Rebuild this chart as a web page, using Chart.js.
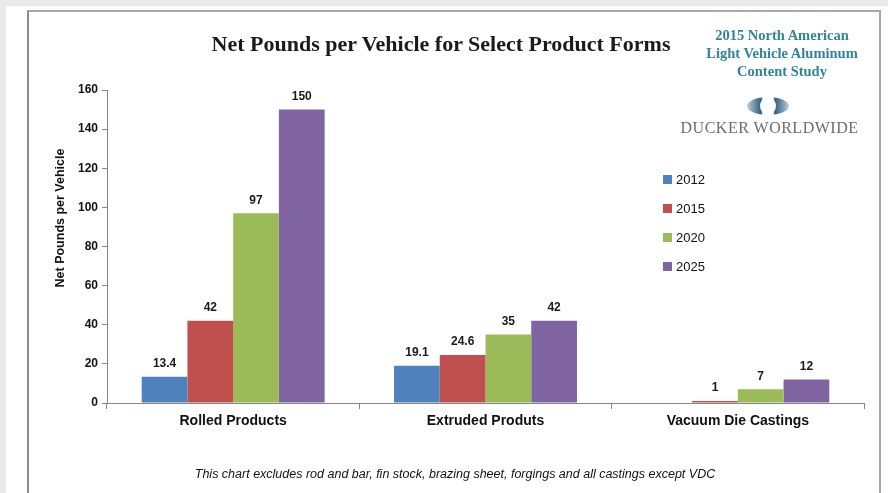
<!DOCTYPE html>
<html>
<head>
    <title>Net Pounds per Vehicle for Select Product Forms</title>
    <script src="https://cdn.jsdelivr.net/npm/chart.js"></script>
    <style>
        body {
            margin: 0;
            width: 888px;
            height: 493px;
            overflow: hidden;
            background: #e9e9e9;
            font-family: "Liberation Sans", Arial, sans-serif;
        }

        .sheet {
            position: absolute;
            left: 6px;
            top: 6px;
            right: 0;
            bottom: 0;
            background: #fff;
        }

        .frame {
            position: absolute;
            left: 27px;
            top: 10px;
            width: 850px;
            height: 520px;
            border-left: 2px solid #8c8c8c;
            border-top: 2px solid #a8a8a8;
            border-right: 2px solid #a8a8a8;
        }

        canvas {
            position: absolute;
            left: 0;
            top: 0;
        }

        .title {
            position: absolute;
            left: 180px;
            width: 522px;
            top: 31px;
            text-align: center;
            font-family: "Liberation Serif", serif;
            font-weight: bold;
            font-size: 22px;
            color: #1a1a1a;
        }

        .study {
            position: absolute;
            left: 692px;
            width: 180px;
            top: 26px;
            text-align: center;
            font-family: "Liberation Serif", serif;
            font-weight: bold;
            font-size: 14.5px;
            line-height: 18px;
            color: #31849b;
        }

        .logo {
            position: absolute;
            left: 747px;
            top: 97px;
            width: 42px;
            height: 18px;
            border-radius: 50%;
            background: linear-gradient(to right, #c3d0d9 0%, #6f91a6 18%, #2f5f7d 34%, #ffffff 38%, #ffffff 62%, #2f5f7d 66%, #6f91a6 82%, #c3d0d9 100%);
        }

        .logo::after {
            content: "";
            position: absolute;
            left: 13px;
            top: 0;
            width: 16px;
            height: 18px;
            border-radius: 50%;
            background: #fff;
        }

        .ducker {
            position: absolute;
            left: 672px;
            width: 195px;
            top: 119px;
            text-align: center;
            font-family: "Liberation Serif", serif;
            font-size: 16px;
            letter-spacing: 0.5px;
            color: #6d6d6d;
        }

        .legend {
            position: absolute;
            left: 663px;
            top: 172px;
        }

        .legend div {
            height: 29px;
            font-size: 13px;
            color: #111;
            line-height: 16px;
        }

        .legend span {
            display: inline-block;
            width: 9px;
            height: 9px;
            margin-right: 4px;
            vertical-align: 0px;
        }

        .y-title {
            position: absolute;
            left: -40px;
            width: 200px;
            top: 210px;
            text-align: center;
            font-weight: bold;
            font-size: 12.5px;
            line-height: 16px;
            color: #111;
            transform: rotate(-90deg);
        }

        .note {
            position: absolute;
            left: 80px;
            width: 750px;
            top: 467px;
            text-align: center;
            font-style: italic;
            font-size: 12.5px;
            color: #111;
        }
    </style>
</head>
<body>
    <div class="sheet"></div>
    <div class="frame"></div>
    <canvas id="pounds-chart" width="888" height="493"></canvas>

    <div class="title">Net Pounds per Vehicle for Select Product Forms</div>
    <div class="study">2015 North American<br>Light Vehicle Aluminum<br>Content Study</div>
    <div class="logo"></div>
    <div class="ducker">DUCKER WORLDWIDE</div>
    <div class="legend" id="legend"></div>
    <div class="y-title">Net Pounds per Vehicle</div>
    <div class="note">This chart excludes rod and bar, fin stock, brazing sheet, forgings and all castings except VDC</div>

    <script>
        const categories = ['Rolled Products', 'Extruded Produts', 'Vacuum Die Castings'];
        const years = ['2012', '2015', '2020', '2025'];
        const lbs2012 = [13.4, 19.1, null];
        const lbs2015 = [42, 24.6, 1];
        const lbs2020 = [97, 35, 7];
        const lbs2025 = [150, 42, 12];
        const yMax = 160;
        const yStep = 20;

        const colors = ['#4f81bd', '#c0504d', '#9bbb59', '#8064a2'];
        const series = [lbs2012, lbs2015, lbs2020, lbs2025];
        const axisColor = '#868686';

        Chart.defaults.font.family = '"Liberation Sans", Arial, sans-serif';

        // legend on the right, built from the series names
        const legend = document.getElementById('legend');
        years.forEach((year, i) => {
            const row = document.createElement('div');
            row.innerHTML = '<span style="background:' + colors[i] + '"></span>' + year;
            legend.appendChild(row);
        });

        // value printed above each bar
        const valueLabels = {
            id: 'valueLabels',
            afterDatasetsDraw(chart) {
                const ctx = chart.ctx;
                ctx.save();
                ctx.font = 'bold 12px "Liberation Sans", Arial, sans-serif';
                ctx.fillStyle = '#1a1a1a';
                ctx.textAlign = 'center';
                ctx.textBaseline = 'bottom';
                chart.data.datasets.forEach((ds, i) => {
                    chart.getDatasetMeta(i).data.forEach((bar, j) => {
                        const v = ds.data[j];
                        if (v === null || v === undefined) return;
                        ctx.fillText(String(v), bar.x, bar.y - 7);
                    });
                });
                ctx.restore();
            }
        };

        const ctx = document.getElementById('pounds-chart').getContext('2d');
        new Chart(ctx, {
            type: 'bar',
            data: {
                labels: categories,
                datasets: series.map((data, i) => ({
                    label: years[i],
                    data: data,
                    backgroundColor: colors[i],
                    borderWidth: 0,
                    categoryPercentage: 0.725,
                    barPercentage: 1.0
                }))
            },
            options: {
                responsive: false,
                animation: false,
                devicePixelRatio: 1,
                layout: {
                    padding: { left: 53, right: 24, top: 90, bottom: 60 }
                },
                plugins: {
                    legend: { display: false },
                    tooltip: { enabled: false }
                },
                scales: {
                    x: {
                        grid: {
                            drawOnChartArea: false,
                            offset: true,
                            tickLength: 6,
                            color: axisColor
                        },
                        border: { color: axisColor },
                        ticks: {
                            color: '#111',
                            padding: 4,
                            font: { size: 14, weight: 'bold' }
                        },
                        afterFit(scale) { scale.height = 30; }
                    },
                    y: {
                        min: 0,
                        max: yMax,
                        grid: {
                            drawOnChartArea: false,
                            tickLength: 5,
                            color: axisColor
                        },
                        border: { color: axisColor },
                        ticks: {
                            stepSize: yStep,
                            color: '#111',
                            padding: 4,
                            font: { size: 12, weight: 'bold' }
                        },
                        afterFit(scale) { scale.width = 54; }
                    }
                }
            },
            plugins: [valueLabels]
        });
    </script>
</body>
</html>
